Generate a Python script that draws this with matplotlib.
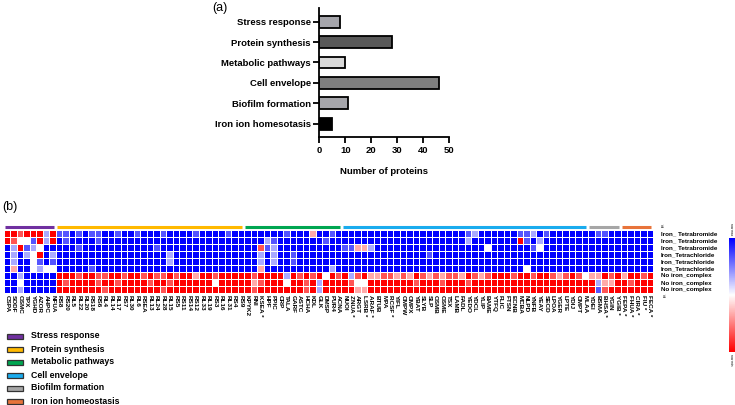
import numpy as np
import matplotlib
matplotlib.use("Agg")
import matplotlib.pyplot as plt
from matplotlib.patches import Rectangle

plt.rcParams['font.family'] = ['Liberation Sans', 'DejaVu Sans']

W, H = 735, 405

# ---- panel (a) data ----
categories = ['Stress response', 'Protein synthesis', 'Metabolic pathways',
              'Cell envelope', 'Biofilm formation', 'Iron ion homesotasis']
protein_counts = [8, 28, 10, 46, 11, 5]
bar_colors = ['#a5a5ab', '#595959', '#d9d9d9', '#7f7f7f', '#a6a6ab', '#000000']

# ---- panel (b) data ----
groups = ['Stress response', 'Protein synthesis', 'Metabolic pathways',
          'Cell envelope', 'Biofilm formation', 'Iron ion homeostasis']
group_sizes = [8, 29, 15, 38, 5, 5]
group_colors = ['#7030a0', '#ffb900', '#00a651', '#1aacee', '#a6a6a6', '#e8743b']

stress_labels = ['CSPA', 'SODF', 'OSMC', 'TPX', 'YGHD', 'AZOR', 'AHPC', 'NFUA']
protein_labels = ['RS8', 'RS20', 'RL5', 'RL22', 'RL20', 'RS18', 'RS6', 'RL4', 'RL14',
                  'RL17', 'RS7', 'RL30', 'RL6', 'RSEA', 'RL13', 'RL24', 'RL28', 'RL15',
                  'RS5', 'RS11', 'RS14', 'RS12', 'RL33', 'RL19', 'RS3', 'RL16', 'RL31',
                  'RS4', 'RS9']
metabolic_labels = ['KPYK2', 'RNI', 'KSEA *', 'HPF', 'PPIC', 'CRP', 'TALA', 'GARF',
                    'ASTC', 'HCHA', 'KDL', 'GLK', 'DMSP', 'PUR4', 'ACNA']
envelope_labels = ['NUOI', 'ZNUA *', 'ARGT', 'LSRB *', 'ARAF *', 'BTUB', 'MPA', 'RCSF *',
                   'YIFL', 'OMPW', 'OMPX', 'YBAT', 'SLYB', 'SLP', 'OSMB', 'OSME', 'TSX',
                   'LAMB', 'FADL', 'YEDO', 'YDCL', 'YLIP', 'BAME', 'YTFQ', 'FLIC', 'FTSN',
                   'ECNB', 'MCBA', 'NLPD', 'YNFB', 'YEAY', 'SECD', 'LPOA', 'YGER', 'LPTE',
                   'YDIJ', 'OMPT', 'MLAA']
biofilm_labels = ['YDEI', 'BSMA', 'BHSA *', 'YGIN', 'YGIB *']
iron_labels = ['FEPA *', 'FHUA *', 'CIRA *', 'FIU *', 'FECA *']
col_labels = (stress_labels + protein_labels + metabolic_labels + envelope_labels
              + biofilm_labels + iron_labels)

row_labels = ['Iron_ Tetrabromide'] * 3 + ['Iron_Tetrachloride'] * 3 + ['No iron_complex'] * 3

# row-scaled expression levels (-3 = row min / blue, +3 = row max / red)
tbr_1 = ([3, 3, 2, 3, 3, 3, -1, 3]
         + [-2, -2, -3, -2, -3, -2, -2, -3, -3, -2, -3, -3, -2, -3, -3, -3, -2, -3, -3, -3, -3, -2, -3, -3, -3, -3, -2, -3, -3]
         + [-3, -3, -3, -3, -3, -3, -2, -3, -3, -3, 1, -3, -3, -2, -3]
         + [-3, -3, -3, -3, -3, -3, -3, -3, -3, -3, -3, -3, -3, -3, -3, -3, -3, -3, -3, -2, -1, -3, -3, -3, -3, -3, -3, -2, -2, -1, -3, -2, -3, -3, -3, -3, -3, -3]
         + [-3, -2, -2, -3, -3]
         + [-3, -3, -3, -3, -3])
tbr_2 = ([3, 2, 0, 0, -2, 3, -1, 3]
         + [-3, -2, -3, -3, -3, -3, -2, -3, -3, -3, -3, -3, -3, -3, -3, -3, -3, -3, -3, -3, -3, -3, -3, -3, -3, -3, -3, -3, -3]
         + [-3, -3, -3, -1, -2, -3, -3, -3, -3, -3, -3, -3, -2, -3, -3]
         + [-3, -3, -3, -3, -3, -3, -3, -3, -3, -3, -3, -3, -3, -3, -3, -3, -3, -3, -3, -1, -3, -3, -3, -3, -3, -3, -3, 3, -2, -3, -1, -3, -3, -3, -3, -3, -3, -3]
         + [-3, -3, -3, -3, -3]
         + [-3, -3, -3, -3, -3])
tbr_3 = ([-3, -1, 3, -2, -1, 0, -3, -3]
         + [-3, -3, -3, -2, -3, -3, -3, -3, -3, -3, -3, -3, -3, -3, -3, -2, -3, -3, -3, -3, -3, -3, -3, -3, -3, -3, -3, -3, -3]
         + [-3, -3, 2, -2, -1, -3, -3, -3, -3, -3, -3, -3, -3, -3, -3]
         + [-2, -2, 1, 1, -1, -3, -3, -3, -3, -3, -3, -3, -3, -3, -3, -3, -3, -3, -3, -3, -3, -3, 0, -3, -3, -3, -3, -3, -3, -2, 0, -3, -3, -3, -3, -3, -3, -3]
         + [-3, -3, -3, -3, -3]
         + [-3, -3, -3, -3, -3])
tcl_1 = ([-3, -1, -3, -1, 0, 3, -3, -1]
         + [-3, -3, -3, -3, -3, -3, -3, -3, -3, -3, -3, -3, -3, -3, -3, -3, -3, -1, -3, -3, -3, -3, -3, -3, -3, -3, -3, -3, -3]
         + [-3, -3, -1, -3, -1, -3, -3, -2, -3, -3, -3, -3, -3, -3, -3]
         + [-3, -3, -3, -3, -3, -3, -3, -3, -3, -3, -3, -3, -3, -2, -3, -3, -3, -3, -3, -3, -3, -3, -3, -3, -3, -3, -3, -3, -3, -3, -3, -3, -3, -3, -3, -3, -3, -3]
         + [-3, -3, -3, -3, -3]
         + [-3, -3, -3, -3, -3])
tcl_2 = ([-3, -1, -3, -3, 0, -2, -3, -2]
         + [-3, -3, -3, -3, -3, -3, -3, -3, -3, -3, -3, -3, -3, -3, -3, -3, -3, -1, -3, -3, -3, -3, -3, -3, -3, -3, -3, -3, -3]
         + [-3, -3, -1, -3, -1, -3, -3, -2, -3, -3, -3, -3, -3, -3, -3]
         + [-3, -3, -3, -3, -3, -3, -3, -3, -3, -3, -3, -3, -3, -3, -3, -3, -3, -3, -3, -3, -3, -3, -3, -3, -3, -3, -3, -3, -3, -3, -3, -3, -3, -3, -3, -3, -3, -3]
         + [-3, -3, -3, -3, -3]
         + [-3, -3, -3, -3, -3])
tcl_3 = ([-3, 1, -3, -3, 0, -1, 0, 0]
         + [-3, -3, -3, -3, -3, -2, -3, -3, -3, -3, -3, -3, -3, -3, -3, -3, -3, -3, -3, -3, -3, -3, -3, -3, -3, -3, -3, -3, -3]
         + [-3, -3, 1, -3, -3, -3, -3, -3, -3, -3, -3, -3, -3, -1, -3]
         + [-3, -3, -3, -3, -3, -3, -3, -3, -3, -3, -3, -3, -3, -3, -3, -3, -3, -3, -3, -3, -3, -3, -3, -3, -3, -3, -3, -3, 0, -3, -3, -3, -3, -3, -3, -3, -3, -3]
         + [-3, -3, -3, -3, -3]
         + [-3, -3, -3, -3, -3])
none_1 = ([-3, -3, -1, -3, -3, -3, -3, -3]
          + [3, 3, 3, 2, 3, 3, 2, 2, 3, 3, 2, 3, 3, 2, 3, 2, 2, 3, 2, 3, 3, 1, 3, 3, 2, 3, 3, 3, 3]
          + [3, 2, 3, 3, 3, 3, -1, 3, 2, 3, 2, 3, 0, 3, 2]
          + [3, -1, 2, 3, 1, 1, 2, 2, 1, 2, 1, 3, 2, 1, 2, 1, 2, 2, 1, 3, 2, 1, 2, 3, 3, 3, 2, 3, 3, 2, 3, 3, 2, 1, 2, 3, 2, 0]
          + [1, 1, 3, 2, 3]
          + [1, 3, 3, 2, 3])
none_2 = ([-3, -3, 0, -3, -3, -3, -3, -3]
          + [3, 2, 3, 3, 3, 3, 2, 3, 3, 2, 3, 3, 3, 3, 2, 3, 3, 2, 3, 3, 3, 3, 3, 3, 0, 3, 3, 3, 3]
          + [3, 1, 2, 3, 3, 3, 0, 3, 3, 2, 3, -1, 3, 3, 3]
          + [3, 2, 0, 0, 3, 3, 3, 3, 3, 3, 3, 2, 3, 3, 3, 2, 3, 3, 3, 2, 3, 3, 3, 3, 3, 3, 3, 3, 3, 3, 3, 3, 3, 3, 3, 3, 3, 3]
          + [3, -1, 1, 1, 3]
          + [3, 2, 3, 3, 3])
none_3 = ([-3, -3, -1, -3, -3, -3, -3, -3]
          + [3, 3, 3, 3, 3, 3, 3, 2, 3, 3, 3, 3, 3, 3, 3, 3, 2, 3, 3, 3, 3, 3, 3, 3, 3, 3, 3, 3, 3]
          + [3, 2, 3, 3, 3, 3, 3, 3, 3, 2, 3, -1, 3, 3, 3]
          + [3, 3, 1, 1, 3, 3, 3, 3, 3, 3, 3, 3, 3, 3, 3, 3, 3, 3, 3, 3, 3, 3, 3, 3, 3, 3, 3, 3, 3, 3, 3, 3, 3, 3, 3, 3, 3, 3]
          + [3, -2, 2, 3, 3]
          + [3, 3, 3, 3, 3])


def px_axes(fig, x0, y0, x1, y1):
    return fig.add_axes([x0 / W, 1 - y1 / H, (x1 - x0) / W, (y1 - y0) / H])


def bar_panel(fig):
    ax = px_axes(fig, 319.3, 8, 449.3, 137.3)
    ypos = np.arange(len(categories))
    ax.barh(ypos, protein_counts, height=0.58, color=bar_colors,
            edgecolor='black', linewidth=1.3)
    ax.set_ylim(5.67, -0.67)
    ax.set_xlim(0, 50)
    ax.set_xticks(range(0, 51, 10))
    ax.set_yticks(ypos)
    ax.set_yticklabels(categories)
    for s in ['top', 'right']:
        ax.spines[s].set_visible(False)
    for s in ['left', 'bottom']:
        ax.spines[s].set_linewidth(1.3)
    ax.tick_params(length=4, width=1.3, labelsize=6.8, pad=2)
    for t in ax.get_xticklabels() + ax.get_yticklabels():
        t.set_fontweight('bold')
    ax.set_xlabel('Number of proteins', fontsize=6.8, fontweight='bold', labelpad=9)
    fig.text(212 / W, 1 - 8 / H, '(a)', fontsize=9, va='center')


def heatmap_panel(fig):
    ax = px_axes(fig, 4, 230, 653, 293)
    vals = np.array([tbr_1, tbr_2, tbr_3, tcl_1, tcl_2, tcl_3, none_1, none_2, none_3])
    ax.pcolormesh(vals, cmap='bwr', vmin=-3, vmax=3, edgecolors='white', linewidth=0.5)
    ncol = vals.shape[1]
    ax.set_xlim(0, ncol)
    ax.set_ylim(9, 0)
    for s in ax.spines.values():
        s.set_visible(False)
    ax.set_xticks(np.arange(ncol) + 0.5)
    ax.set_xticklabels(col_labels, rotation=270, fontsize=4.6, fontweight='bold')
    ax.yaxis.tick_right()
    ax.set_yticks(np.arange(9) + 0.5)
    ax.set_yticklabels(row_labels, fontsize=4.5, fontweight='bold')
    ax.tick_params(length=0)
    ax.tick_params(axis='x', pad=1.5)
    ax.tick_params(axis='y', pad=5.8)

    # group bars above the heatmap
    start = 0
    for n, c in zip(group_sizes, group_colors):
        ax.plot([start + 0.2, start + n - 0.3], [-0.42, -0.42], color=c, lw=2.2,
                clip_on=False, solid_capstyle='butt')
        start += n

    fig.text(661 / W, 1 - 226 / H, '≤', fontsize=3.5, ha='left', va='center')
    fig.text(663 / W, 1 - 297 / H, '≤', fontsize=3.5, ha='left', va='center')
    fig.text(2 / W, 1 - 207 / H, '(b)', fontsize=9, va='center')

    # colour scale on the right edge
    cax = px_axes(fig, 729, 238, 735, 352)
    grad = np.linspace(-3, 3, 200).reshape(-1, 1)
    cax.imshow(grad, aspect='auto', cmap='bwr', vmin=-3, vmax=3)
    cax.axis('off')
    fig.text(731 / W, 1 - 229 / H, 'row max', fontsize=2.3, rotation=270,
             ha='center', va='center')
    fig.text(731 / W, 1 - 360 / H, 'row min', fontsize=2.3, rotation=270,
             ha='center', va='center')


def legend_block(fig):
    for i, (name, c) in enumerate(zip(groups, group_colors)):
        y = 336 + 13 * i
        fig.add_artist(Rectangle((7 / W, 1 - (y + 2.5) / H), 16 / W, 5 / H,
                                 transform=fig.transFigure, facecolor=c,
                                 edgecolor='#333333', linewidth=0.9))
        fig.text(31 / W, 1 - y / H, name, fontsize=6.3, fontweight='bold',
                 ha='left', va='center')


fig = plt.figure(figsize=(W / 100, H / 100), dpi=100)
bar_panel(fig)
heatmap_panel(fig)
legend_block(fig)
fig.savefig('out.png', dpi=100)
